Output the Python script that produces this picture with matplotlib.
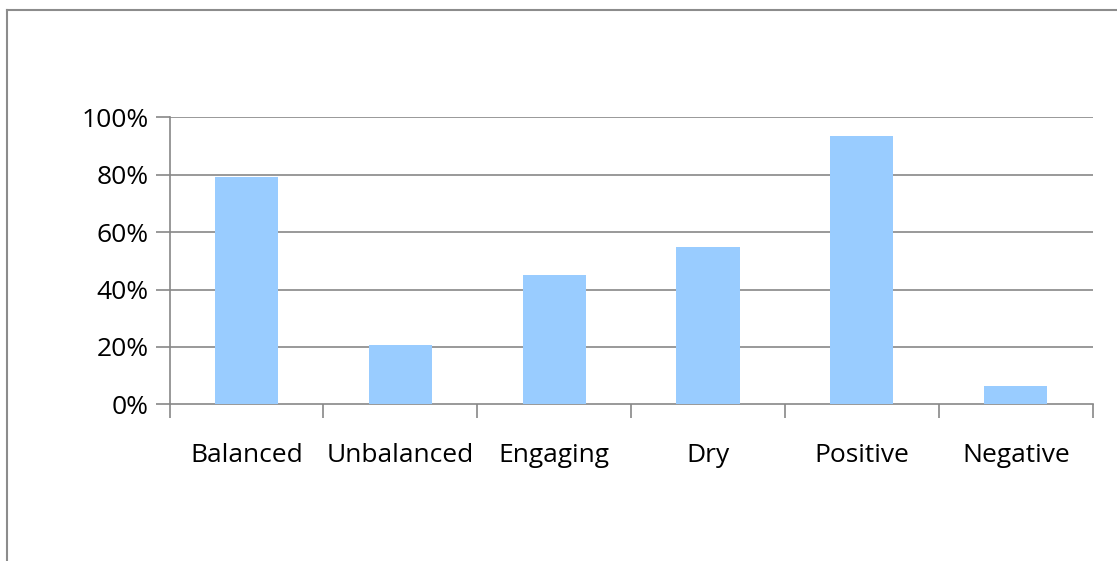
import matplotlib
matplotlib.use("Agg")
import matplotlib.pyplot as plt
from matplotlib.lines import Line2D
from matplotlib.ticker import FuncFormatter

categories = ["Balanced", "Unbalanced", "Engaging", "Dry", "Positive", "Negative"]
values = [79.2, 20.7, 45.0, 54.8, 93.5, 6.4]
yticks = [0, 20, 40, 60, 80, 100]

W, H = 1117, 561
fig = plt.figure(figsize=(W / 100, H / 100), dpi=100)
plt.rcParams['font.family'] = ['Open Sans', 'DejaVu Sans']

x0, x1 = 169.5, 1092.7
y0, y1 = 404.3, 117.3
ax = fig.add_axes([x0 / W, 1 - y0 / H, (x1 - x0) / W, (y0 - y1) / H])

grid_c = "#878787"
pos = list(range(len(categories)))
ax.bar(pos, values, width=0.41, color="#99CCFF", zorder=3)
ax.set_xlim(-0.5, len(categories) - 0.5)
ax.set_ylim(0, 100)
ax.set_yticks(yticks)
ax.yaxis.set_major_formatter(FuncFormatter(lambda v, p: f"{int(v)}%"))
for y in yticks[1:]:
    ax.axhline(y, color=grid_c, lw=1.2, zorder=1)

ax.set_xticks(pos)
ax.set_xticklabels(categories)
ax.set_xticks([p - 0.5 for p in pos] + [len(pos) - 0.5], minor=True)
ax.tick_params(axis='x', which='major', length=0, pad=28, labelsize=19)
ax.tick_params(axis='x', which='minor', length=10, width=1.2, color=grid_c, direction='out')
ax.tick_params(axis='y', which='major', length=10, width=1.2, color=grid_c, pad=5, labelsize=19)

for s in ['top', 'right']:
    ax.spines[s].set_visible(False)
for s in ['left', 'bottom']:
    ax.spines[s].set_color(grid_c)
    ax.spines[s].set_linewidth(1.2)

# outer frame
fx, fy = 6.5, 9.5
fig.add_artist(Line2D([fx / W, fx / W], [1 - fy / H, 0], color="#8c8c8c", lw=1.5, transform=fig.transFigure))
fig.add_artist(Line2D([fx / W, 1], [1 - fy / H, 1 - fy / H], color="#8c8c8c", lw=1.5, transform=fig.transFigure))

fig.savefig("out.png", dpi=100)
